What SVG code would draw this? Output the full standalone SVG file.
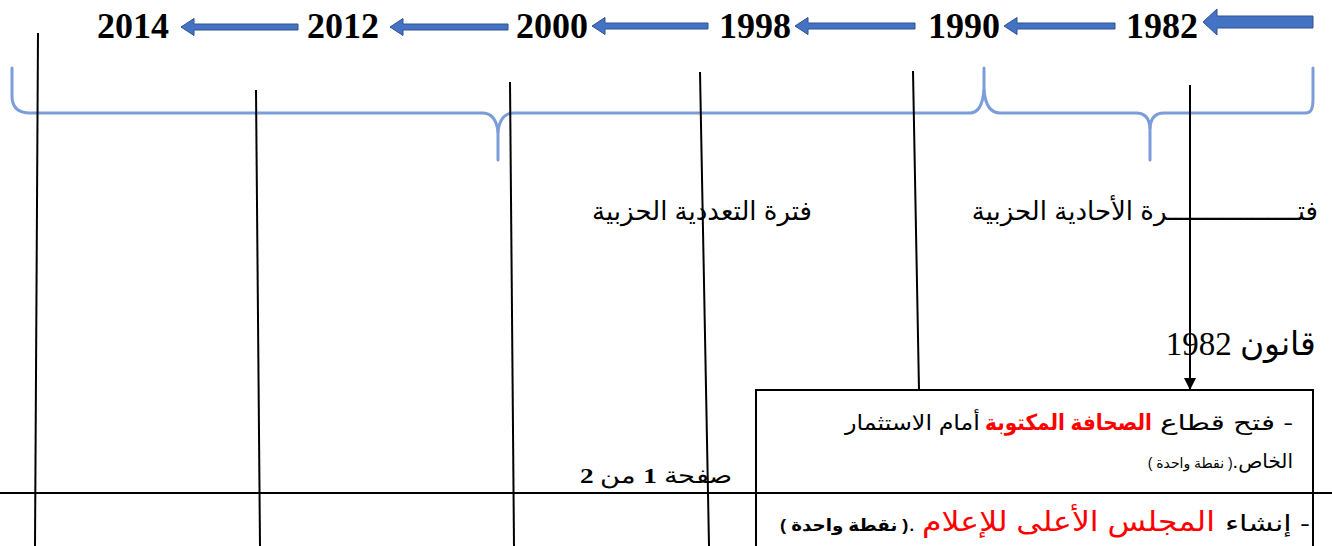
<svg xmlns="http://www.w3.org/2000/svg" width="1332" height="546" viewBox="0 0 1332 546">
<style>
.yr{font-family:"Liberation Serif","DejaVu Serif",serif;font-weight:bold;font-size:36px;fill:#000}
.ar{font-family:"Liberation Sans","DejaVu Sans",sans-serif;fill:#000}
.tm{font-family:"Liberation Serif","DejaVu Serif",serif;fill:#000}
.arrow{fill:#4472C4;stroke:#2F528F;stroke-width:1}
.ln{stroke:#000;stroke-width:2;fill:none}
.brace{fill:none;stroke:#7C9DDA;stroke-width:3;stroke-linejoin:round;stroke-linecap:round}
.red{fill:#FF0000}
</style>
<defs>
<marker id="ah" viewBox="0 0 10 10" refX="10" refY="5" markerWidth="12" markerHeight="13" markerUnits="userSpaceOnUse" orient="auto">
<path d="M0,0 L10,5 L0,10 z" fill="#000"/>
</marker>
</defs>
<rect width="1332" height="546" fill="#fff"/>

<g id="years">
<text class="yr" x="97" y="38">2014</text>
<text class="yr" x="307" y="38">2012</text>
<text class="yr" x="516" y="38">2000</text>
<text class="yr" x="719" y="38">1998</text>
<text class="yr" x="928" y="38">1990</text>
<text class="yr" x="1126" y="38">1982</text>
</g>

<g id="timeline-arrows">
<path class="arrow" d="M181,27 L194,18.5 L194,24 L298,24 L298,30 L194,30 L194,35.5 Z"/>
<path class="arrow" d="M390,27 L403,18.5 L403,24 L508,24 L508,30 L403,30 L403,35.5 Z"/>
<path class="arrow" d="M592,26 L605,17.5 L605,23 L708,23 L708,29 L605,29 L605,34.5 Z"/>
<path class="arrow" d="M795,26 L808,17.5 L808,23 L915,23 L915,29 L808,29 L808,34.5 Z"/>
<path class="arrow" d="M1004,26 L1017,17.5 L1017,23 L1115,23 L1115,29 L1017,29 L1017,34.5 Z"/>
<path class="arrow" d="M1203,22 L1217,9 L1217,16 L1313,16 L1313,28 L1217,28 L1217,35 Z"/>
</g>

<g id="braces">
<path class="brace" d="M12,68 L12,96 Q12,113 30,113 L482,113 Q496,113 498,132 L498,160"/>
<path class="brace" d="M498,132 Q500,113 514,113 L970,113 Q982,113 984,90 L984,68"/>
<path class="brace" d="M984,90 Q986,113 1000,113 L1136,113 Q1149,113 1150,128 L1150,160"/>
<path class="brace" d="M1150,128 Q1151,113 1164,113 L1306,113 Q1313,113 1313,100 L1313,68"/>
</g>

<g id="period-labels">
<text class="ar" x="812" y="220" font-size="26" direction="rtl" text-anchor="start">فترة التعددية الحزبية</text>
<text class="ar" x="1318" y="220" font-size="26" direction="rtl" text-anchor="start">فتـــــــــــــــــرة  الأحادية الحزبية</text>
</g>

<g id="law-label">
<text class="tm" x="1316" y="355" font-size="33" direction="rtl" text-anchor="start">قانون 1982</text>
</g>

<g id="page-number">
<text class="tm" x="733" y="483" font-size="22" direction="rtl" text-anchor="start" textLength="153" lengthAdjust="spacingAndGlyphs">صفحة <tspan font-weight="bold">1</tspan> من <tspan font-weight="bold">2</tspan></text>
</g>

<g id="connectors">
<line class="ln" x1="38" y1="33" x2="35" y2="546"/>
<line class="ln" x1="256" y1="90" x2="260" y2="546"/>
<line class="ln" x1="510" y1="82" x2="514" y2="546"/>
<line class="ln" x1="700" y1="72" x2="709" y2="546"/>
<line class="ln" x1="913" y1="71" x2="919" y2="390"/>
<line class="ln" x1="1190" y1="85" x2="1190" y2="390" marker-end="url(#ah)"/>
<line class="ln" x1="0" y1="493" x2="1332" y2="493"/>
</g>

<g id="law-box">
<rect x="756" y="390" width="557" height="170" fill="none" stroke="#000" stroke-width="2"/>
<text class="ar" x="1293" y="430" font-size="21" direction="rtl" text-anchor="start" textLength="133" lengthAdjust="spacingAndGlyphs">- فتح قطاع</text>
<text class="ar red" x="1152" y="430" font-size="22" font-weight="bold" direction="rtl" text-anchor="start" textLength="167" lengthAdjust="spacingAndGlyphs">الصحافة المكتوبة</text>
<text class="ar" x="980" y="430" font-size="21" direction="rtl" text-anchor="start" textLength="135" lengthAdjust="spacingAndGlyphs">أمام الاستثمار</text>
<text class="ar" x="1293" y="468" font-size="20" direction="rtl" text-anchor="start">الخاص.<tspan font-size="14">( نقطة واحدة )</tspan></text>
<text class="ar" x="1310" y="531" font-size="22" direction="rtl" text-anchor="start" textLength="85" lengthAdjust="spacingAndGlyphs">- إنشاء</text>
<text class="ar red" x="1215" y="531" font-size="28" direction="rtl" text-anchor="start" textLength="293" lengthAdjust="spacingAndGlyphs">المجلس الأعلى للإعلام</text>
<text class="ar" x="915" y="531" font-size="22" direction="rtl" text-anchor="start" textLength="135" lengthAdjust="spacingAndGlyphs">.<tspan font-size="17" font-weight="bold">( نقطة واحدة )</tspan></text>
</g>
</svg>
